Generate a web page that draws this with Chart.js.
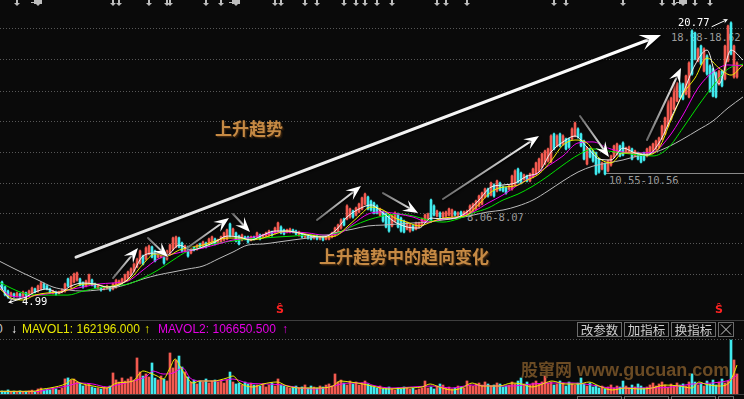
<!DOCTYPE html>
<html>
<head>
<meta charset="utf-8">
<script src="https://cdn.jsdelivr.net/npm/chart.js@4.4.1/dist/chart.umd.min.js"></script>
<style>
  body { margin: 0; width: 744px; height: 399px; overflow: hidden; position: relative; background: #0a0a0a; font-family: "Liberation Sans", Arial, sans-serif; }
  canvas { display: block; }
  .abs { position: absolute; white-space: nowrap; }
  .num { font-family: "DejaVu Sans Mono", monospace; font-size: 10.5px; line-height: 12px; }
  .leg { position: absolute; top: 322px; font-size: 12px; line-height: 14px; white-space: nowrap; }
  .btn { position: absolute; box-sizing: border-box; height: 15px; border: 1px solid #6c6c6c; background: #0a0a0a; color: #cfcfcf; font: 12.5px/13px "Noto Sans CJK SC", sans-serif; text-align: center; }
  .big { position: absolute; white-space: nowrap; font: bold 17px/20px "Noto Sans CJK SC", sans-serif; color: #c68a44; text-shadow: 1px 1px 0 #3d2711, 2px 2px 1px #21150a; }
  .sig { position: absolute; font: bold 11px/12px "DejaVu Sans", sans-serif; color: #ff2222; }
  .mark { position: absolute; color: #6b4b24; white-space: nowrap; }
</style>
</head>
<body>
<!-- range labels sit under the candles -->
<div class="abs num" style="left:671px;top:31px;color:#9c9c9c">18.98-18.62</div>
<div class="abs num" style="left:609px;top:174px;color:#9c9c9c">10.55-10.56</div>
<div class="abs num" style="left:467px;top:211px;color:#9c9c9c">8.06-8.07</div>

<div class="abs" style="left:0;top:0;width:744px;height:318px"><canvas id="price" width="744" height="318"></canvas></div>
<div class="abs" style="left:0;top:320px;width:744px;height:1px;background:#3e3e3e"></div>
<div class="abs" style="left:0;top:339px;width:744px;height:55px"><canvas id="volume" width="744" height="55"></canvas></div>
<div class="abs" style="left:0;top:394px;width:744px;height:1px;background:#3e3e3e"></div>

<div class="abs num" style="left:678px;top:16px;color:#ffffff">20.77</div>
<div class="abs num" style="left:22px;top:295px;color:#ffffff">4.99</div>
<div class="sig" style="left:276px;top:304px">Ŝ</div>
<div class="sig" style="left:715px;top:304px">Ŝ</div>

<div class="big" style="left:215px;top:118px">上升趋势</div>
<div class="big" style="left:319px;top:246px">上升趋势中的趋向变化</div>

<span class="leg" style="left:-4px;color:#d0d0d0">0</span>
<span class="leg" style="left:11px;color:#ffffff">↓</span>
<span class="leg" style="left:22px;color:#e8e800">MAVOL1: 162196.000</span>
<span class="leg" style="left:144px;color:#e8e800">↑</span>
<span class="leg" style="left:158px;color:#e400e4">MAVOL2: 106650.500</span>
<span class="leg" style="left:282px;color:#e400e4">↑</span>

<div class="btn" style="left:577px;top:322px;width:45px">改参数</div>
<div class="btn" style="left:624px;top:322px;width:45px">加指标</div>
<div class="btn" style="left:671px;top:322px;width:45px">换指标</div>
<div class="btn" style="left:718px;top:322px;width:16px"><svg width="14" height="13" style="display:block"><path d="M2 1.5 L12 11.5 M12 1.5 L2 11.5" stroke="#cfcfcf" stroke-width="1"/></svg></div>
<div class="btn" style="left:577px;top:396px;width:45px"></div>
<div class="btn" style="left:624px;top:396px;width:45px"></div>
<div class="btn" style="left:671px;top:396px;width:45px"></div>
<div class="btn" style="left:718px;top:396px;width:16px"></div>

<div class="mark" style="left:521px;top:359px;font:bold 17px/20px 'Noto Sans CJK SC',sans-serif">股窜网</div>
<div class="mark" style="left:577px;top:360px;font:bold 18px/20px 'Liberation Sans',Arial,sans-serif">www.gucuan.com</div>

<script>
// daily candles, index 0..245 (left to right)
const opens = [
  5.90,5.62,5.39,5.11,5.22,5.11,5.22,5.11,5.28,5.16,
  5.28,5.51,5.39,5.51,5.79,5.68,5.51,5.28,5.33,5.26,
  5.33,5.39,6.08,5.62,5.91,6.02,6.08,5.85,5.68,5.85,
  6.02,5.79,5.56,5.56,5.51,5.56,5.56,5.51,5.62,5.79,
  5.85,5.96,6.13,6.31,6.53,6.76,6.99,7.39,7.22,7.51,
  7.91,7.68,7.33,7.33,7.51,7.22,7.56,7.79,7.91,8.42,
  8.13,7.68,7.91,7.56,7.91,7.79,8.08,7.91,8.13,8.02,
  8.19,8.36,8.13,8.19,8.31,8.36,9.22,8.59,8.71,8.53,
  8.31,8.48,8.48,8.31,8.48,8.48,8.59,8.48,8.53,8.59,
  8.76,8.71,8.82,9.05,8.88,8.76,8.76,8.88,8.82,8.59,
  8.65,8.48,8.53,8.53,8.42,8.53,8.36,8.48,8.36,8.36,
  8.48,8.59,8.82,8.99,9.51,9.51,9.62,9.96,9.73,9.91,
  10.08,10.36,10.76,10.53,10.42,10.25,9.73,9.91,9.79,9.68,
  9.11,9.39,9.79,9.56,9.39,8.93,8.82,9.11,8.93,9.05,
  9.16,9.33,9.51,10.59,10.25,9.68,9.85,9.62,9.68,9.73,
  9.68,9.91,9.73,9.91,9.73,9.73,9.91,9.96,10.08,10.25,
  10.36,10.76,11.22,10.88,11.45,11.11,11.56,11.33,11.28,11.22,
  11.22,11.45,12.36,12.13,11.79,11.96,11.68,11.91,12.08,12.25,
  12.48,12.65,12.82,12.76,14.36,13.68,14.36,13.79,14.08,14.08,
  14.08,14.25,14.65,14.36,13.96,12.65,13.51,13.39,13.28,12.93,
  12.36,12.65,12.25,12.59,13.05,13.22,13.68,13.85,13.33,13.33,
  13.51,13.11,13.28,13.22,13.28,13.11,13.33,13.39,13.51,13.62,
  14.08,14.36,14.82,15.22,15.79,16.25,17.28,17.22,16.65,16.48,
  20.25,20.13,18.53,19.39,17.96,18.82,18.25,18.08,17.85,17.22,
  17.96,17.51,18.53,20.71,17.62,17.62
];
const highs = [
  5.96,5.68,5.45,5.33,5.28,5.33,5.28,5.39,5.33,5.45,
  5.62,5.56,5.73,5.91,5.85,5.73,5.56,5.45,5.39,5.39,
  5.51,5.85,6.13,6.25,6.42,6.48,6.13,5.91,6.02,6.36,
  6.08,5.85,5.73,5.62,5.68,5.73,5.62,5.85,6.08,6.02,
  6.13,6.36,6.53,6.71,6.99,7.28,7.73,7.45,7.91,8.02,
  7.96,7.73,7.56,7.62,7.56,7.73,8.08,8.48,8.53,8.48,
  8.19,8.02,7.96,7.85,7.96,8.08,8.13,8.25,8.19,8.42,
  8.53,8.42,8.36,8.53,8.76,8.93,9.28,8.99,8.76,8.59,
  8.65,8.53,8.53,8.53,8.53,8.76,8.65,8.65,8.76,8.88,
  8.82,9.05,9.33,9.11,8.93,8.93,8.99,8.93,8.88,8.82,
  8.71,8.65,8.59,8.59,8.59,8.59,8.53,8.53,8.53,8.59,
  8.76,9.05,9.22,9.51,9.56,10.31,10.13,10.02,10.19,10.42,
  10.76,10.99,10.82,10.59,10.48,10.31,10.13,9.96,9.85,9.73,
  9.73,9.91,9.85,9.62,9.45,9.33,9.22,9.16,9.33,9.33,
  9.56,9.79,9.85,10.65,10.31,10.02,9.91,9.91,9.96,10.13,
  10.08,9.96,9.91,9.96,9.96,10.02,10.31,10.42,10.59,10.88,
  11.05,11.28,11.28,11.62,11.51,11.73,11.62,11.39,11.33,11.45,
  12.02,12.31,12.42,12.19,12.08,12.02,12.13,12.42,12.76,12.99,
  13.28,13.45,13.56,14.31,14.42,14.31,14.42,14.31,14.13,14.13,
  14.71,15.05,14.71,14.42,14.02,13.62,13.56,13.45,13.33,12.99,
  12.76,12.71,12.88,13.16,13.73,13.85,13.73,13.91,13.62,13.68,
  13.56,13.45,13.33,13.28,13.33,13.56,13.68,13.85,14.02,14.19,
  14.88,15.33,16.31,16.48,17.33,17.33,17.33,17.28,17.73,18.48,
  20.31,20.19,19.28,19.45,19.28,18.88,18.31,18.13,17.91,18.02,
  18.02,19.45,20.59,20.77,19.45,18.48
];
const lows = [
  5.45,5.11,4.99,5.05,5.02,5.05,5.02,5.05,5.11,5.11,
  5.22,5.28,5.33,5.45,5.51,5.45,5.28,5.22,5.16,5.22,
  5.28,5.33,5.62,5.56,5.85,5.96,5.68,5.56,5.62,5.79,
  5.68,5.56,5.51,5.39,5.45,5.51,5.39,5.45,5.56,5.73,
  5.79,5.91,6.08,6.25,6.48,6.71,6.93,6.88,7.16,7.45,
  7.28,7.05,7.28,7.28,6.93,7.16,7.51,7.73,7.85,7.85,
  7.62,7.62,7.33,7.51,7.68,7.73,7.85,7.85,7.85,7.96,
  8.13,8.02,8.08,8.13,8.25,8.31,8.48,8.53,8.19,8.02,
  8.25,8.31,8.13,8.25,8.31,8.42,8.31,8.42,8.48,8.53,
  8.53,8.65,8.76,8.65,8.59,8.71,8.71,8.71,8.59,8.53,
  8.42,8.42,8.36,8.31,8.36,8.31,8.31,8.25,8.31,8.31,
  8.42,8.53,8.76,8.93,9.11,9.45,9.56,9.56,9.68,9.85,
  10.02,10.31,10.02,9.96,9.79,9.79,9.68,9.33,8.99,8.76,
  9.05,9.33,8.99,8.76,8.71,8.88,8.76,8.82,8.88,8.99,
  9.11,9.28,9.45,9.33,9.68,9.62,9.56,9.56,9.62,9.68,
  9.62,9.68,9.68,9.68,9.68,9.68,9.85,9.91,10.02,10.19,
  10.31,10.71,10.76,10.82,10.76,11.05,11.11,11.05,10.93,11.16,
  11.16,11.39,11.56,11.51,11.73,11.62,11.62,11.85,12.02,12.19,
  12.42,12.59,12.76,12.71,13.45,13.62,13.62,13.73,13.45,13.56,
  14.02,14.19,14.13,13.62,12.88,12.59,12.99,12.76,12.02,12.13,
  12.31,12.02,12.19,12.53,12.99,13.16,13.05,13.11,13.28,13.28,
  12.88,13.05,12.88,12.71,12.82,13.05,13.28,13.33,13.45,13.56,
  14.02,14.31,14.76,15.16,15.73,16.19,16.42,16.31,16.59,16.42,
  17.73,18.59,18.48,18.31,17.91,17.73,16.76,16.48,16.42,17.16,
  17.05,17.45,18.48,18.88,17.56,17.56
];
const closes = [
  5.51,5.17,5.05,5.28,5.08,5.28,5.08,5.33,5.16,5.39,
  5.56,5.33,5.68,5.85,5.56,5.51,5.33,5.39,5.22,5.35,
  5.45,5.79,5.68,6.19,6.36,6.42,5.73,5.62,5.96,6.31,
  5.73,5.62,5.68,5.45,5.62,5.68,5.45,5.79,6.02,5.96,
  6.08,6.31,6.48,6.65,6.93,7.22,7.68,6.93,7.85,7.96,
  7.33,7.11,7.51,7.56,6.99,7.68,8.02,8.42,8.48,7.91,
  7.68,7.96,7.39,7.79,7.73,8.02,7.91,8.19,7.91,8.36,
  8.48,8.08,8.31,8.48,8.71,8.88,8.53,8.93,8.25,8.08,
  8.59,8.36,8.19,8.48,8.36,8.71,8.36,8.59,8.71,8.82,
  8.59,8.99,9.28,8.71,8.65,8.88,8.93,8.76,8.65,8.76,
  8.48,8.59,8.42,8.36,8.53,8.36,8.48,8.31,8.48,8.53,
  8.71,8.99,9.16,9.45,9.16,10.25,10.08,9.62,10.13,10.36,
  10.71,10.93,10.08,10.02,9.85,9.85,10.08,9.39,9.05,8.82,
  9.68,9.85,9.05,8.82,8.76,9.28,9.16,8.88,9.28,9.28,
  9.51,9.73,9.79,9.39,9.73,9.96,9.62,9.85,9.91,10.08,
  10.02,9.73,9.85,9.73,9.91,9.96,10.25,10.36,10.53,10.82,
  10.99,11.22,10.82,11.56,10.82,11.68,11.16,11.11,10.99,11.39,
  11.96,12.25,11.62,11.56,12.02,11.68,12.08,12.36,12.71,12.93,
  13.22,13.39,13.51,14.25,13.51,14.25,13.68,14.25,13.51,13.62,
  14.65,14.99,14.19,13.68,12.93,13.56,13.05,12.82,12.08,12.19,
  12.71,12.08,12.82,13.11,13.68,13.79,13.11,13.16,13.56,13.62,
  12.93,13.39,12.93,12.76,12.88,13.51,13.62,13.79,13.96,14.13,
  14.82,15.28,16.25,16.42,17.28,17.28,16.48,16.36,17.68,18.42,
  17.79,18.65,19.22,18.36,19.22,17.79,16.82,16.53,16.48,17.96,
  17.11,19.39,20.53,18.93,19.39,18.42
];
const volumes = [
  17200,16100,22900,11800,16500,12300,17600,10900,15800,17400,
  21900,16200,28300,33100,22800,27600,23500,34200,28900,21700,
  33800,84600,90100,78200,83900,67500,61200,45300,50800,56400,
  39600,33200,34100,27900,39100,33900,44600,117900,78900,67100,
  89800,72600,84300,95400,78100,201900,123600,100500,112400,95100,
  173800,89300,78600,100900,84100,72900,229800,145900,190600,212700,
  151300,123400,95600,67400,78300,56200,72700,67000,84200,61800,
  72900,78500,67300,72600,61500,78600,123100,67200,56300,61700,
  50600,67100,56000,61400,50200,50500,44900,56100,39400,50300,
  61900,44700,84300,50400,45100,39300,33800,39000,44600,33500,
  39500,50700,33700,44800,39100,33600,45000,39200,50100,56300,
  44700,112300,67400,78200,61500,50600,72900,56100,67300,50200,
  61800,72700,56400,44900,39300,33700,44800,28100,33500,39200,
  28400,22600,33900,28000,39500,33600,27800,33700,22300,28200,
  33900,72800,33600,39400,28100,44900,56200,50300,33800,39100,
  28300,33500,44700,39300,33700,73100,50600,44700,56300,61600,
  50200,67400,56100,44900,50500,61800,56000,39400,44800,50300,
  67200,56500,72900,89700,56200,67300,50400,61700,72800,56100,
  67500,100900,61600,67100,50300,56400,72900,61800,44700,67300,
  56000,50500,61400,89800,56300,44800,61700,39300,50400,33800,
  44600,28200,39400,50600,33500,44900,39100,72700,44700,33600,
  50300,39400,56100,44900,33800,39200,50600,61500,44800,56300,
  67200,50400,39100,56000,44600,61900,50200,56500,44800,67400,
  112600,67100,50300,61800,44700,72900,56200,78400,50600,67300,
  84100,61500,72800,302400,190700,112400
];

// moving averages (x = candle index)
const fastIdx = [-1,3,7,11,15,19,23,27,31,35,39,43,47,51,55,59,63,67,71,75,79,83,87,91,95,99,103,107,111,115,119,123,127,131,135,139,143,147,151,155,159,163,167,171,175,179,183,187,191,195,199,203,207,211,215,219,223,227,231,235,239,243,247];
const ma5 = [5.79,4.93,4.99,5.33,5.51,5.28,5.68,5.85,5.79,5.62,5.73,6.25,7.39,7.56,7.45,8.02,7.73,7.91,8.19,8.53,8.48,8.31,8.59,8.82,8.82,8.71,8.53,8.48,8.82,9.62,10.08,10.31,9.85,9.33,9.05,8.99,9.56,9.51,9.56,9.91,10.59,11.33,11.45,11.56,11.96,12.19,13.33,13.91,14.25,13.62,12.93,12.88,13.56,13.28,13.16,13.85,15.28,16.71,18.31,19.16,17.22,19.16,18.59];
const ma10 = [5.56,4.99,4.88,5.16,5.28,5.33,5.51,5.79,5.79,5.62,5.79,6.13,6.93,7.51,7.39,7.73,7.91,8.02,8.25,8.42,8.42,8.31,8.42,8.65,8.82,8.71,8.59,8.48,8.53,9.05,9.68,10.19,10.02,9.56,9.33,9.11,9.33,9.56,9.62,9.73,10.36,11.05,11.33,11.39,11.73,12.08,12.82,13.73,14.02,13.85,12.99,12.71,13.28,13.28,13.16,13.56,15.16,16.65,17.56,18.71,18.13,17.73,18.31];
const slowIdx = [-1,3,7,12,17,22,27,32,37,42,47,52,57,62,67,72,77,82,87,92,97,102,107,112,117,122,127,132,137,142,147,152,157,162,167,172,177,182,187,192,197,202,207,212,217,222,227,232,237,242,247];
const ma20 = [5.62,5.11,5.05,5.16,5.28,5.45,5.62,5.79,5.85,5.96,6.59,7.22,7.51,7.68,7.85,8.08,8.31,8.42,8.59,8.76,8.76,8.71,8.59,8.65,9.22,9.79,9.91,9.79,9.62,9.33,9.51,9.62,9.91,10.42,10.88,11.45,11.96,12.53,13.11,13.85,13.91,13.56,13.33,13.28,13.33,14.13,15.45,16.99,17.91,18.31,18.25];
const ma30 = [5.91,5.56,5.28,5.16,5.16,5.16,5.39,5.56,5.68,5.79,6.13,6.59,7.16,7.68,7.91,8.13,8.25,8.36,8.42,8.48,8.53,8.59,8.59,8.71,9.11,9.45,9.68,9.79,9.68,9.45,9.33,9.51,9.85,10.13,10.59,10.93,11.39,11.96,12.59,13.16,13.51,13.39,13.28,13.16,13.11,13.56,14.71,15.96,17.11,18.08,18.36];
const ma60 = [7.11,6.76,6.42,6.02,5.62,5.45,5.39,5.45,5.56,5.79,6.08,6.31,6.48,6.65,6.82,7.22,7.62,8.02,8.08,8.19,8.31,8.42,8.53,8.76,8.93,9.11,9.16,9.22,9.28,9.33,9.45,9.56,9.73,9.91,10.02,10.25,10.59,11.11,11.68,12.19,12.53,12.71,12.88,13.11,13.28,13.62,14.08,14.59,15.11,15.85,16.48];

// volume averages
const volMa1Idx = [-0.7,10.3,13.7,16,21.7,23.3,26,30.3,35,38.3,43.7,46,47,49.3,51.7,53.7,56,57.7,59.3,61.7,63.7,66,70.3,75,77,79.3,83.7,87,91.7,95,99.3,105,110.3,112.7,116,120.3,123.3,129,134.3,140,142.7,145.7,150,153.3,156.7,160,165.7,170,173.3,176.7,181,183.3,187.7,192.3,195.7,199,203.3,207.7,212.3,216.7,221,225.7,230,232.3,234.3,239,242.3,244,245];
const volMa1 = [15100,15100,28000,33600,61600,84000,61600,44800,33600,61600,72800,117600,128800,117600,100800,84000,145600,196000,156800,89600,61600,72800,72800,89600,100800,61600,39200,56000,67200,44800,33600,33600,44800,72800,67200,56000,44800,28000,33600,39200,56000,39200,22400,33600,61600,44800,44800,61600,56000,39200,61600,72800,56000,56000,67200,44800,22400,33600,28000,33600,50400,44800,33600,67200,56000,44800,61600,117600,162196];
const volMa2Idx = [-0.7,11.7,16,21.7,26,30.3,35,38.3,43.7,48.3,50.3,53.7,57,60.3,62.7,66,71.7,77,81.7,88.3,93.7,99.3,105,110.3,116,121.7,123.3,130,136.7,143.3,150,156.7,163.3,170,176.7,183.3,190,196.7,203.3,210,216.7,223.3,230,236.7,243.3,245];
const volMa2 = [14000,14000,28000,44800,61600,56000,39200,50400,72800,100800,128800,112000,117600,145600,89600,72800,72800,84000,61600,56000,50400,33600,28000,44800,61600,61600,50400,33600,39200,44800,33600,50400,44800,44800,56000,61600,61600,50400,33600,33600,33600,39200,56000,61600,84000,106650];

// price grid, information markers and drawn-on arrows
const gridPrices = [20.40, 18.63, 16.84, 15.12, 13.35, 11.58, 9.87, 8.12, 6.36];
const lowLine = [200.67, 12.13];
const markerIdx = [5,12,37,39,49,55,56,68,73,78,91,93,101,105,114,118,121,125,130,145,148,155,184,188,207,220,224,227,231,236];
const blobIdx = [12, 78, 227];
const bigArrow = [24.67, 7.33, 219.67, 20.02];
const smallArrows = [
  [37.0, 6.13, 45.33, 7.85],
  [48.67, 8.42, 55.33, 7.33],
  [61.67, 7.85, 75.67, 9.56],
  [77.0, 9.79, 82.67, 8.76],
  [105.0, 9.45, 119.67, 11.39],
  [127.0, 10.99, 138.67, 9.85],
  [147.0, 10.65, 179.0, 14.25],
  [192.67, 15.39, 202.33, 13.05],
  [215.0, 14.02, 226.33, 18.13]
];
const pointerArrows = [
  [236.67, 20.50, 242.0, 20.92],
  [6.0, 4.93, 2.0, 4.72]
];

const RED = '#f25a50';
const CYAN = '#40eaee';
const idx = closes.map((c, k) => k);
const barColors = idx.map(k => closes[k] >= opens[k] ? RED : CYAN);

function maLine(color, xs, ys) {
  return {
    type: 'line',
    order: 0,
    data: xs.map((x, k) => ({ x: x, y: ys[k] })),
    borderColor: color,
    borderWidth: 1,
    pointRadius: 0,
    fill: false,
    cubicInterpolationMode: 'monotone'
  };
}

function drawArrow(ctx, x1, y1, x2, y2, w, len, half, c1, c2) {
  const ang = Math.atan2(y2 - y1, x2 - x1);
  const cos = Math.cos(ang), sin = Math.sin(ang);
  const nx = x2 - cos * len * 0.6, ny = y2 - sin * len * 0.6;
  const hx = x2 - cos * len, hy = y2 - sin * len;
  const g = ctx.createLinearGradient(x1, y1, x2, y2);
  g.addColorStop(0, c1);
  g.addColorStop(1, c2);
  ctx.strokeStyle = g;
  ctx.lineWidth = w;
  ctx.lineCap = 'round';
  ctx.beginPath();
  ctx.moveTo(x1, y1);
  ctx.lineTo(nx, ny);
  ctx.stroke();
  ctx.fillStyle = c2;
  ctx.beginPath();
  ctx.moveTo(x2, y2);
  ctx.lineTo(hx - sin * half, hy + cos * half);
  ctx.lineTo(nx, ny);
  ctx.lineTo(hx + sin * half, hy - cos * half);
  ctx.closePath();
  ctx.fill();
}

const priceOverlay = {
  id: 'priceOverlay',
  beforeDatasetsDraw(chart) {
    const { ctx, chartArea: a, scales: { x, y } } = chart;
    ctx.save();
    ctx.strokeStyle = '#585858';
    ctx.lineWidth = 1;
    ctx.setLineDash([1, 2]);
    gridPrices.forEach(p => {
      const py = Math.round(y.getPixelForValue(p)) + 0.5;
      ctx.beginPath();
      ctx.moveTo(a.left, py);
      ctx.lineTo(a.right, py);
      ctx.stroke();
    });
    ctx.setLineDash([]);
    ctx.strokeStyle = '#8a8a8a';
    const ly = Math.round(y.getPixelForValue(lowLine[1])) + 0.5;
    ctx.beginPath();
    ctx.moveTo(x.getPixelForValue(lowLine[0]), ly);
    ctx.lineTo(a.right, ly);
    ctx.stroke();
    ctx.restore();
  },
  afterDatasetsDraw(chart) {
    const { ctx, scales: { x, y } } = chart;
    const P = (i, p) => [x.getPixelForValue(i), y.getPixelForValue(p)];
    ctx.save();
    // info mine markers along the top edge
    ctx.fillStyle = '#bdbdbd';
    markerIdx.forEach(i => {
      const px = Math.round(x.getPixelForValue(i));
      if (blobIdx.includes(i)) {
        ctx.fillRect(px - 4, 0, 8, 4);
        ctx.fillRect(px - 7, 2, 3, 1);
      } else {
        ctx.fillRect(px - 1, 0, 2, 3);
      }
      ctx.beginPath();
      ctx.moveTo(px - 3, 3);
      ctx.lineTo(px + 3, 3);
      ctx.lineTo(px, 6);
      ctx.closePath();
      ctx.fill();
    });
    // trend arrows
    ctx.shadowColor = 'rgba(0,0,0,0.9)';
    ctx.shadowBlur = 2;
    ctx.shadowOffsetX = 1;
    ctx.shadowOffsetY = 1;
    drawArrow(ctx, ...P(bigArrow[0], bigArrow[1]), ...P(bigArrow[2], bigArrow[3]), 3, 21, 8, '#e2e2e2', '#ffffff');
    smallArrows.forEach(s => drawArrow(ctx, ...P(s[0], s[1]), ...P(s[2], s[3]), 2, 15, 6, '#6a6a6a', '#ffffff'));
    ctx.shadowBlur = 0;
    ctx.shadowOffsetX = 0;
    ctx.shadowOffsetY = 0;
    pointerArrows.forEach(s => drawArrow(ctx, ...P(s[0], s[1]), ...P(s[2], s[3]), 1, 5, 2.5, '#ffffff', '#ffffff'));
    ctx.restore();
  }
};

const volumeOverlay = {
  id: 'volumeOverlay',
  beforeDatasetsDraw(chart) {
    const { ctx, chartArea: a } = chart;
    ctx.save();
    ctx.strokeStyle = '#585858';
    ctx.setLineDash([1, 2]);
    ctx.beginPath();
    ctx.moveTo(a.left, a.top + 0.5);
    ctx.lineTo(a.right, a.top + 0.5);
    ctx.stroke();
    ctx.restore();
  }
};

const xAxis = { type: 'linear', min: -0.6667, max: 247.3333, display: false, offset: false };

new Chart(document.getElementById('price').getContext('2d'), {
  type: 'bar',
  data: {
    datasets: [
      maLine('#f2f2f2', fastIdx, ma5),
      maLine('#eeee00', fastIdx, ma10),
      maLine('#f000f0', slowIdx, ma20),
      maLine('#00e400', slowIdx, ma30),
      maLine('#bcbcbc', slowIdx, ma60),
      {
        type: 'bar', order: 1, grouped: false, barThickness: 2, minBarLength: 1,
        data: idx.map(k => ({ x: k, y: [opens[k], closes[k]] })),
        backgroundColor: barColors, borderWidth: 0
      },
      {
        type: 'bar', order: 2, grouped: false, barThickness: 1,
        data: idx.map(k => ({ x: k, y: [lows[k], highs[k]] })),
        backgroundColor: barColors, borderWidth: 0
      }
    ]
  },
  options: {
    responsive: false,
    animation: false,
    events: [],
    layout: { padding: 0 },
    plugins: { legend: { display: false }, tooltip: { enabled: false } },
    scales: {
      x: xAxis,
      y: { min: 3.85, max: 22.02, display: false }
    }
  },
  plugins: [priceOverlay]
});

new Chart(document.getElementById('volume').getContext('2d'), {
  type: 'bar',
  data: {
    datasets: [
      maLine('#eeee00', volMa1Idx, volMa1),
      maLine('#f000f0', volMa2Idx, volMa2),
      {
        type: 'bar', order: 1, grouped: false, barThickness: 2,
        data: idx.map(k => ({ x: k, y: volumes[k] })),
        backgroundColor: barColors, borderWidth: 0
      }
    ]
  },
  options: {
    responsive: false,
    animation: false,
    events: [],
    layout: { padding: 0 },
    plugins: { legend: { display: false }, tooltip: { enabled: false } },
    scales: {
      x: xAxis,
      y: { min: 0, max: 308000, display: false }
    }
  },
  plugins: [volumeOverlay]
});
</script>
</body>
</html>
